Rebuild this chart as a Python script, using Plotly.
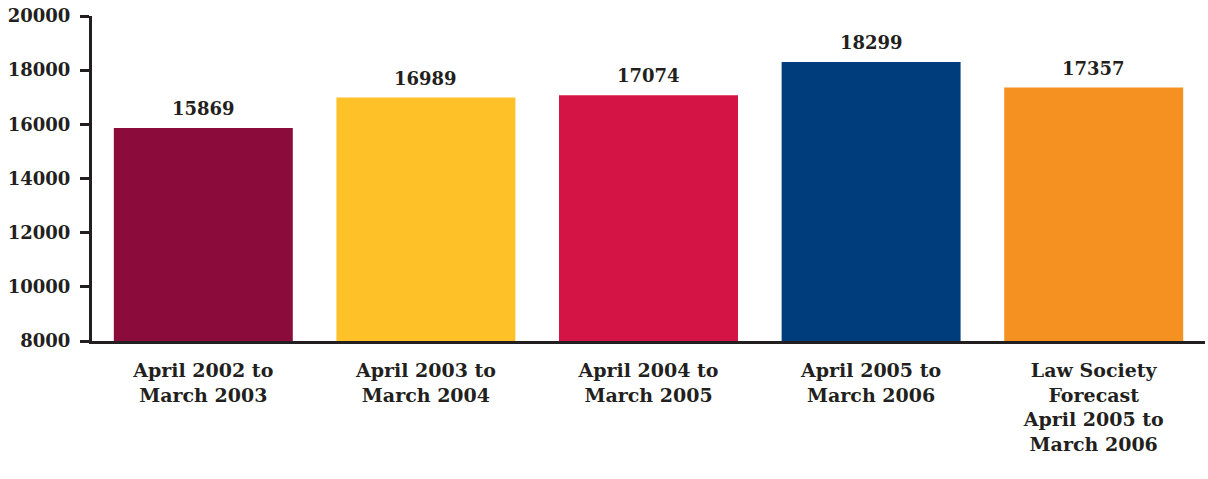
import plotly.graph_objects as go

# Annual figures by period
categories = [
    "April 2002 to<br>March 2003",
    "April 2003 to<br>March 2004",
    "April 2004 to<br>March 2005",
    "April 2005 to<br>March 2006",
    "Law Society<br>Forecast<br>April 2005 to<br>March 2006",
]
values = [15869, 16989, 17074, 18299, 17357]
bar_colors = ["#8b0c3a", "#fec228", "#d31444", "#003d7c", "#f59121"]
y_ticks = [8000, 10000, 12000, 14000, 16000, 18000, 20000]

ink = "#231f20"
font_family = "DejaVu Serif"

fig = go.Figure(
    go.Bar(
        x=categories,
        y=values,
        marker=dict(color=bar_colors, line=dict(width=0)),
        hoverinfo="x+y",
    )
)

# Value labels above each bar
for cat, val in zip(categories, values):
    fig.add_annotation(
        x=cat,
        y=val,
        text=str(val),
        showarrow=False,
        yanchor="bottom",
        yshift=7,
        font=dict(family=font_family, size=18, color=ink, weight="bold"),
    )

fig.update_layout(
    width=1208,
    height=479,
    margin=dict(l=92, r=3, t=16, b=138),
    paper_bgcolor="white",
    plot_bgcolor="white",
    bargap=0.196,
    showlegend=False,
    font=dict(family=font_family, size=18, color=ink, weight="bold"),
)

fig.update_xaxes(
    showline=True,
    linecolor=ink,
    linewidth=3,
    ticks="",
    showgrid=False,
    ticklabelstandoff=10,
    tickfont=dict(family=font_family, size=19, color=ink, weight="bold"),
)

fig.update_yaxes(
    range=[8000, 20000],
    tickvals=y_ticks,
    ticktext=[str(t) for t in y_ticks],
    showline=True,
    linecolor=ink,
    linewidth=3,
    ticks="outside",
    ticklen=9,
    tickwidth=3,
    tickcolor=ink,
    showgrid=False,
    zeroline=False,
    ticklabelstandoff=6,
    tickfont=dict(family=font_family, size=18, color=ink, weight="bold"),
)

fig.write_html("out.html")
